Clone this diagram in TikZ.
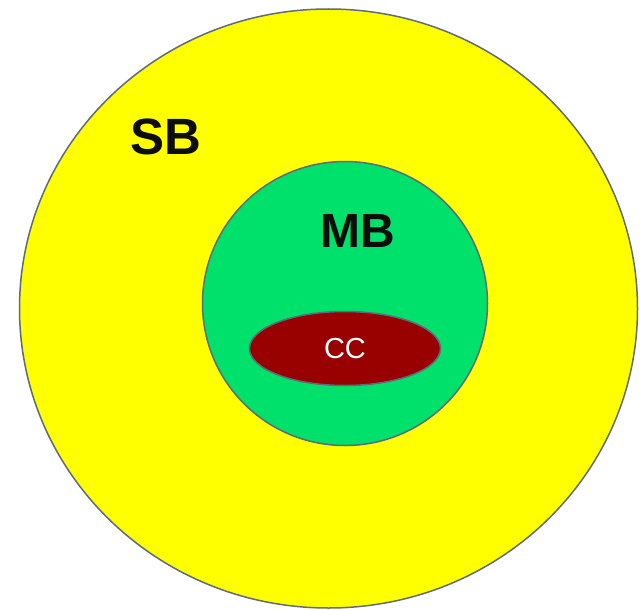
\documentclass[tikz,border=0pt]{standalone}
\usepackage{fontspec}
\setmainfont{Liberation Sans}
\usepackage{xcolor}
\usetikzlibrary{shapes.geometric}

\definecolor{sbyellow}{HTML}{FFFF00}
\definecolor{mbgreen}{HTML}{00E16B}
\definecolor{ccred}{HTML}{990000}
\definecolor{rimgray}{HTML}{5F6B78}

\begin{document}
\begin{tikzpicture}[
    % GLOBAL CFG
    x=1pt, y=-1pt,
    % Styles
    zone/.style={% For the nested regions
        ellipse,
        draw=rimgray,
        line width=1.5pt,
        inner sep=0pt,
        },
    biglabel/.style={% For SB and MB
        font=\fontsize{48}{48}\selectfont\bfseries,
        text=black!95,
        inner sep=0pt,
        },
    smalllabel/.style={% For CC
        font=\fontsize{29}{29}\selectfont,
        text=white,
        inner sep=0pt,
        },
    ]

    % Fix the margins
    \useasboundingbox (0,0) rectangle (640,610);

    % Draw the regions named sb, mb, cc
    \node [zone, fill=sbyellow, minimum width=618pt, minimum height=599pt] (sb) at (328.5,308.5) {};
    \node [zone, fill=mbgreen, minimum width=285pt, minimum height=284pt] (mb) at (345,303.5) {};
    \node [zone, fill=ccred, minimum width=191pt, minimum height=74pt] (cc) at (345,348.5) {};

    % Labels
    \node [biglabel, font=\fontsize{51}{51}\selectfont\bfseries] (sbtext) at (166,137) {SB};
    \node [biglabel] (mbtext) at (358,230.5) {MB};
    \node [smalllabel] (cctext) at (cc) {CC};

\end{tikzpicture}
\end{document}
